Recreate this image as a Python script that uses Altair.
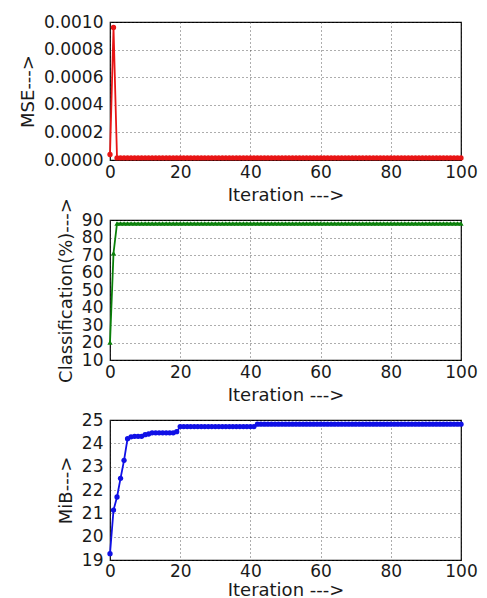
import altair as alt
import pandas as pd

iterations = list(range(0, 101))

mse = [0.00004, 0.00096] + [
    0.000015, 0.000015, 0.000015, 0.000015, 0.000015, 0.000015, 0.000015, 0.000015, 0.000015, 0.000015,
    0.000015, 0.000015, 0.000015, 0.000015, 0.000015, 0.000015, 0.000015, 0.000015, 0.000015, 0.000015,
    0.000015, 0.000015, 0.000015, 0.000015, 0.000015, 0.000015, 0.000015, 0.000015, 0.000015, 0.000015,
    0.000015, 0.000015, 0.000015, 0.000015, 0.000015, 0.000015, 0.000015, 0.000015, 0.000015, 0.000015,
    0.000015, 0.000015, 0.000015, 0.000015, 0.000015, 0.000015, 0.000015, 0.000015, 0.000015, 0.000015,
    0.000015, 0.000015, 0.000015, 0.000015, 0.000015, 0.000015, 0.000015, 0.000015, 0.000015, 0.000015,
    0.000015, 0.000015, 0.000015, 0.000015, 0.000015, 0.000015, 0.000015, 0.000015, 0.000015, 0.000015,
    0.000015, 0.000015, 0.000015, 0.000015, 0.000015, 0.000015, 0.000015, 0.000015, 0.000015, 0.000015,
    0.000015, 0.000015, 0.000015, 0.000015, 0.000015, 0.000015, 0.000015, 0.000015, 0.000015, 0.000015,
    0.000015, 0.000015, 0.000015, 0.000015, 0.000015, 0.000015, 0.000015, 0.000015, 0.000015]

classification = [20, 71] + [
    88, 88, 88, 88, 88, 88, 88, 88, 88, 88,
    88, 88, 88, 88, 88, 88, 88, 88, 88, 88,
    88, 88, 88, 88, 88, 88, 88, 88, 88, 88,
    88, 88, 88, 88, 88, 88, 88, 88, 88, 88,
    88, 88, 88, 88, 88, 88, 88, 88, 88, 88,
    88, 88, 88, 88, 88, 88, 88, 88, 88, 88,
    88, 88, 88, 88, 88, 88, 88, 88, 88, 88,
    88, 88, 88, 88, 88, 88, 88, 88, 88, 88,
    88, 88, 88, 88, 88, 88, 88, 88, 88, 88,
    88, 88, 88, 88, 88, 88, 88, 88, 88]

mib = [19.27, 21.14, 21.7, 22.5, 23.27, 24.2, 24.28, 24.3, 24.3, 24.3,
       24.37, 24.4, 24.45, 24.45, 24.45, 24.45, 24.45, 24.45, 24.45, 24.5,
       24.72, 24.72, 24.72, 24.72, 24.72, 24.72, 24.72, 24.72, 24.72, 24.72,
       24.72, 24.72, 24.72, 24.72, 24.72, 24.72, 24.72, 24.72, 24.72, 24.72,
       24.72, 24.72, 24.82, 24.82, 24.82, 24.82, 24.82, 24.82, 24.82, 24.82,
       24.82, 24.82, 24.82, 24.82, 24.82, 24.82, 24.82, 24.82, 24.82, 24.82,
       24.82, 24.82, 24.82, 24.82, 24.82, 24.82, 24.82, 24.82, 24.82, 24.82,
       24.82, 24.82, 24.82, 24.82, 24.82, 24.82, 24.82, 24.82, 24.82, 24.82,
       24.82, 24.82, 24.82, 24.82, 24.82, 24.82, 24.82, 24.82, 24.82, 24.82,
       24.82, 24.82, 24.82, 24.82, 24.82, 24.82, 24.82, 24.82, 24.82, 24.82,
       24.82]

x_ticks = [0, 20, 40, 60, 80, 100]
mse_ticks = [0.0, 0.0002, 0.0004, 0.0006, 0.0008, 0.0010]
cls_ticks = [10, 20, 30, 40, 50, 60, 70, 80, 90]
mib_ticks = [19, 20, 21, 22, 23, 24, 25]

df = pd.DataFrame({"it": iterations, "mse": mse, "cls": classification, "mib": mib})

FONT = "DejaVu Sans"

def x_enc(lp, tp):
    return alt.X("it:Q", scale=alt.Scale(domain=[0, 100], nice=False),
                 axis=alt.Axis(values=x_ticks, title="Iteration --->", labelFlush=False,
                               format="d", labelPadding=lp, titlePadding=tp))

def panel(field, color, shape, domain, ticks, fmt, title, h, lp, tp):
    y = alt.Y(f"{field}:Q", scale=alt.Scale(domain=domain, nice=False, zero=False),
              axis=alt.Axis(values=ticks, format=fmt, title=title))
    return alt.Chart(df).mark_line(
        color=color, strokeWidth=1.8, clip=False,
        point=alt.OverlayMarkDef(filled=True, color=color, shape=shape, size=28)
    ).encode(x=x_enc(lp, tp), y=y).properties(width=351, height=h)

c1 = panel("mse", "#e81515", "circle", [0, 0.001], mse_ticks, ".4f", "MSE--->", 138, 4, 6)
c2 = panel("cls", "#0a800a", "triangle-up", [10, 90], cls_ticks, "d", "Classification(%)--->", 140, 4, 6)
c3 = panel("mib", "#1010e6", "circle", [19, 25], mib_ticks, "d", "MiB--->", 140, 3, 2)

chart = alt.vconcat(c1, c2, c3, spacing=60, bounds="flush").properties(
    padding={"left": 10, "top": 4, "right": 0, "bottom": 0}
).configure_view(
    stroke="black", strokeWidth=1.2
).configure_axis(
    labelFont=FONT, titleFont=FONT, labelFontSize=17, titleFontSize=18,
    titleFontWeight="normal", labelColor="#1a1a1a", titleColor="#1a1a1a",
    ticks=False, domain=False, labelPadding=7, titlePadding=6,
    grid=True, gridColor="#333333", gridDash=[1, 3], gridWidth=1, gridOpacity=0.8,
    labelOverlap=False
).configure_axisY(labelFlush=False)

chart.save("out.html", embed_options={"renderer": "svg", "actions": False})
